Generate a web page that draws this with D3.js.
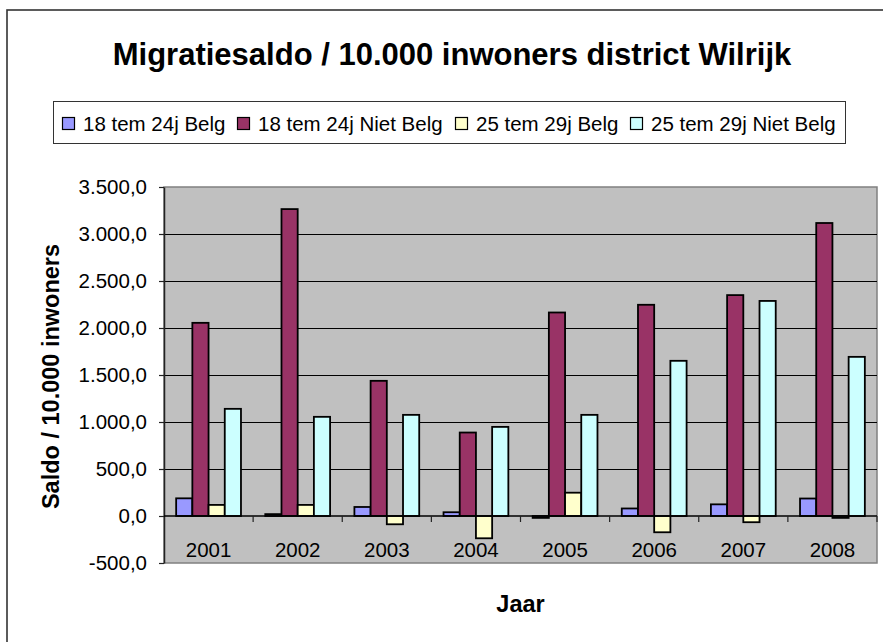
<!DOCTYPE html>
<html>
<head>
<meta charset="utf-8">
<script src="https://cdn.jsdelivr.net/npm/d3@7"></script>
<style>
  html, body { margin: 0; padding: 0; background: #fff; }
  svg { display: block; font-family: "Liberation Sans", Arial, sans-serif; }
</style>
</head>
<body>
<svg id="chart" width="883" height="642"></svg>
<script>
// Jaren (categorieën)
const years = ["2001", "2002", "2003", "2004", "2005", "2006", "2007", "2008"];

// Reeksnamen en kleuren
const seriesNames = ["18 tem 24j Belg", "18 tem 24j Niet Belg", "25 tem 29j Belg", "25 tem 29j Niet Belg"];
const seriesColors = ["#9999FF", "#993366", "#FFFFCC", "#CCFFFF"];

// Migratiesaldo per 10.000 inwoners
const belg18_24     = [188, 20, 96, 40, -20, 80, 124, 186];
const nietBelg18_24 = [2055, 3265, 1438, 888, 2165, 2247, 2350, 3117];
const belg25_29     = [118, 118, -88, -237, 248, -173, -66, -20];
const nietBelg25_29 = [1140, 1055, 1076, 948, 1076, 1651, 2288, 1693];

// Y-as ticks
const yTicks = [-500, 0, 500, 1000, 1500, 2000, 2500, 3000, 3500];

const seriesValues = [belg18_24, nietBelg18_24, belg25_29, nietBelg25_29];

const svg = d3.select("#chart");
const plot = { left: 164, right: 877, top: 187, bottom: 563 };

const nl = d3.formatLocale({ decimal: ",", thousands: ".", grouping: [3], currency: ["€", ""], minus: "-" });
const fmt = nl.format(",.1f");

// Buitenkader
svg.append("rect")
  .attr("x", 7).attr("y", 10).attr("width", 900).attr("height", 700)
  .attr("fill", "#fff").attr("stroke", "#333").attr("stroke-width", 1.6);

// Titel
svg.append("text")
  .attr("x", 452).attr("y", 65)
  .attr("text-anchor", "middle")
  .attr("font-weight", "bold").attr("font-size", 31)
  .text("Migratiesaldo / 10.000 inwoners district Wilrijk");

// Legende
const legend = svg.append("g");
legend.append("rect")
  .attr("x", 53.5).attr("y", 101.5).attr("width", 792).attr("height", 42)
  .attr("fill", "#fff").attr("stroke", "#333").attr("stroke-width", 1);
const legendX = [62, 237, 455, 630];
seriesNames.forEach((name, i) => {
  legend.append("rect")
    .attr("x", legendX[i] + 0.5).attr("y", 117.5).attr("width", 12).attr("height", 12)
    .attr("fill", seriesColors[i]).attr("stroke", "#000").attr("stroke-width", 1.2);
  legend.append("text")
    .attr("x", legendX[i] + 21).attr("y", 131)
    .attr("font-size", 20.5)
    .text(name);
});

// Schalen
const x0 = d3.scaleBand().domain(years).range([plot.left, plot.right]).paddingInner(0).paddingOuter(0);
const groupWidth = x0.bandwidth() * 4 / 5.5;
const x1 = d3.scaleBand().domain(d3.range(seriesNames.length)).range([0, groupWidth]).padding(0);
const y = d3.scaleLinear().domain([-500, 3500]).range([plot.bottom, plot.top]);

// Plotgebied
svg.append("rect")
  .attr("x", plot.left).attr("y", plot.top)
  .attr("width", plot.right - plot.left).attr("height", plot.bottom - plot.top)
  .attr("fill", "#C0C0C0").attr("stroke", "#808080").attr("stroke-width", 1.5);

// Rasterlijnen
svg.append("g")
  .selectAll("line")
  .data(yTicks.filter(t => t > -500 && t < 3500 && t !== 0))
  .join("line")
  .attr("x1", plot.left).attr("x2", plot.right)
  .attr("y1", d => Math.round(y(d)) + 0.5).attr("y2", d => Math.round(y(d)) + 0.5)
  .attr("stroke", "#000").attr("stroke-width", 1);

// Staven
const groups = svg.append("g")
  .selectAll("g")
  .data(years)
  .join("g")
  .attr("transform", d => `translate(${x0(d) + (x0.bandwidth() - groupWidth) / 2},0)`);

groups.selectAll("rect")
  .data((d, yi) => seriesValues.map((vals, si) => ({ si, v: vals[yi] })))
  .join("rect")
  .attr("x", d => x1(d.si))
  .attr("width", x1.bandwidth())
  .attr("y", d => y(Math.max(0, d.v)))
  .attr("height", d => Math.abs(y(d.v) - y(0)))
  .attr("fill", d => seriesColors[d.si])
  .attr("stroke", "#000").attr("stroke-width", 1.8);

// Y-as
const yAxis = svg.append("g")
  .attr("transform", `translate(${plot.left},0)`)
  .call(d3.axisLeft(y).tickValues(yTicks).tickFormat(fmt).tickSize(5).tickPadding(12).tickSizeOuter(0));
yAxis.select(".domain").attr("stroke", "#222").attr("stroke-width", 1.5);
yAxis.selectAll(".tick line").attr("stroke", "#222").attr("stroke-width", 1.2);
yAxis.selectAll(".tick text").attr("font-size", 20.5).attr("fill", "#000")
  .attr("font-family", "\"Liberation Sans\", Arial, sans-serif");

// X-as op nullijn
const xAxisG = svg.append("g");
xAxisG.append("line")
  .attr("x1", plot.left).attr("x2", plot.right)
  .attr("y1", y(0)).attr("y2", y(0))
  .attr("stroke", "#000").attr("stroke-width", 1.5);
xAxisG.selectAll("line.tick")
  .data(years.slice(1).concat(["end"]))
  .join("line")
  .attr("class", "tick")
  .attr("x1", (d, i) => i < years.length - 1 ? x0(d) : plot.right)
  .attr("x2", (d, i) => i < years.length - 1 ? x0(d) : plot.right)
  .attr("y1", y(0)).attr("y2", y(0) + 6)
  .attr("stroke", "#222").attr("stroke-width", 1.2);
xAxisG.selectAll("text")
  .data(years)
  .join("text")
  .attr("x", d => x0(d) + x0.bandwidth() / 2)
  .attr("y", 557)
  .attr("text-anchor", "middle")
  .attr("font-size", 20.5)
  .text(d => d);

// Astitels
svg.append("text")
  .attr("transform", "translate(59,376.5) rotate(-90)")
  .attr("text-anchor", "middle")
  .attr("font-weight", "bold").attr("font-size", 23.5)
  .text("Saldo / 10.000 inwoners");

svg.append("text")
  .attr("x", (plot.left + plot.right) / 2).attr("y", 612)
  .attr("text-anchor", "middle")
  .attr("font-weight", "bold").attr("font-size", 23.5)
  .text("Jaar");
</script>
</body>
</html>
